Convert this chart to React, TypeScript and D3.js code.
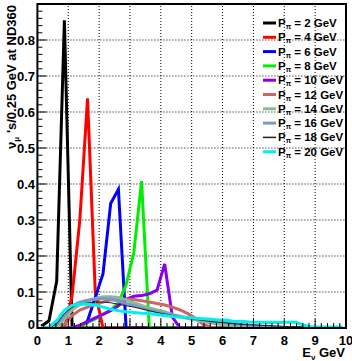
import React from "react";
import * as d3 from "d3";

const binCenters = d3.range(40).map((i) => 0.125 + 0.25 * i);

const p2 = [0.005, 0.02, 0.13, 0.855, 0, 0, 0, 0, 0, 0, 0, 0, 0, 0, 0, 0, 0, 0, 0, 0, 0, 0, 0, 0, 0, 0, 0, 0, 0, 0, 0, 0, 0, 0, 0, 0, 0, 0, 0, 0];
const p4 = [0, 0, 0, 0, 0.09, 0.3, 0.638, 0.1, 0, 0, 0, 0, 0, 0, 0, 0, 0, 0, 0, 0, 0, 0, 0, 0, 0, 0, 0, 0, 0, 0, 0, 0, 0, 0, 0, 0, 0, 0, 0, 0];
const p6 = [0, 0, 0, 0, 0, 0, 0.02, 0.085, 0.15, 0.346, 0.385, 0, 0, 0, 0, 0, 0, 0, 0, 0, 0, 0, 0, 0, 0, 0, 0, 0, 0, 0, 0, 0, 0, 0, 0, 0, 0, 0, 0, 0];
const p8 = [0, 0, 0, 0, 0, 0.005, 0.015, 0.025, 0.038, 0.05, 0.07, 0.12, 0.21, 0.408, 0, 0, 0, 0, 0, 0, 0, 0, 0, 0, 0, 0, 0, 0, 0, 0, 0, 0, 0, 0, 0, 0, 0, 0, 0, 0];
const p10 = [0, 0, 0, 0, 0, 0.008, 0.018, 0.028, 0.038, 0.048, 0.062, 0.08, 0.088, 0.09, 0.095, 0.105, 0.178, 0.03, 0, 0, 0, 0, 0, 0, 0, 0, 0, 0, 0, 0, 0, 0, 0, 0, 0, 0, 0, 0, 0, 0];
const p12 = [0, 0, 0, 0.01, 0.035, 0.05, 0.058, 0.065, 0.072, 0.078, 0.08, 0.08, 0.079, 0.076, 0.072, 0.068, 0.064, 0.058, 0.05, 0.04, 0.027, 0.01, 0.002, 0, 0, 0, 0, 0, 0, 0, 0, 0, 0, 0, 0, 0, 0, 0, 0, 0];
const p14 = [0, 0, 0, 0.025, 0.05, 0.065, 0.075, 0.082, 0.087, 0.087, 0.085, 0.078, 0.07, 0.063, 0.056, 0.05, 0.045, 0.038, 0.032, 0.027, 0.022, 0.018, 0.014, 0.011, 0.008, 0.005, 0.003, 0.001, 0, 0, 0, 0, 0, 0, 0, 0, 0, 0, 0, 0];
const p16 = [0, 0, 0.01, 0.035, 0.062, 0.072, 0.077, 0.08, 0.082, 0.08, 0.075, 0.068, 0.062, 0.056, 0.05, 0.045, 0.04, 0.036, 0.032, 0.028, 0.025, 0.022, 0.019, 0.017, 0.015, 0.012, 0.01, 0.008, 0.006, 0.004, 0.003, 0.002, 0, 0, 0, 0, 0, 0, 0, 0];
const p18 = [0, 0, 0.012, 0.04, 0.058, 0.066, 0.07, 0.072, 0.072, 0.07, 0.066, 0.062, 0.058, 0.053, 0.048, 0.043, 0.039, 0.035, 0.031, 0.027, 0.024, 0.021, 0.018, 0.016, 0.014, 0.012, 0.01, 0.009, 0.008, 0.007, 0.006, 0.005, 0.004, 0.004, 0.003, 0.001, 0, 0, 0, 0];
const p20 = [0, 0.003, 0.02, 0.05, 0.063, 0.066, 0.066, 0.064, 0.058, 0.052, 0.048, 0.045, 0.043, 0.041, 0.04, 0.037, 0.035, 0.032, 0.03, 0.03, 0.027, 0.026, 0.024, 0.022, 0.022, 0.018, 0.019, 0.017, 0.016, 0.015, 0.016, 0.015, 0.016, 0.016, 0.008, 0.003, 0.003, 0.003, 0.003, 0.003];

const seriesLabels = ["2", "4", "6", "8", "10", "12", "14", "16", "18", "20"];
const seriesValues = [p2, p4, p6, p8, p10, p12, p14, p16, p18, p20];
const seriesColors = ["#000000", "#ff0000", "#0000ff", "#00ee00", "#8800ee", "#cc6666", "#88bb99", "#7799cc", "#222222", "#00f0f0"];
const seriesWidths = [3, 3, 3, 3, 3, 3, 3, 3, 1, 3];

const xTicks = [0, 1, 2, 3, 4, 5, 6, 7, 8, 9, 10];
const yTicks = [0, 0.1, 0.2, 0.3, 0.4, 0.5, 0.6, 0.7, 0.8];

const W = 352;
const H = 361;
const FONT = "'Liberation Sans Narrow', 'Arial Narrow', 'Liberation Sans', Arial, sans-serif";

export default function App() {
  const x = d3.scaleLinear().domain([0, 10]).range([37.4, 346]);
  const y = d3.scaleLinear().domain([0, 0.9]).range([328, 4]);
  const line = d3
    .line<number>()
    .x((_, i) => x(binCenters[i]))
    .y((v) => y(v));

  const xMinor = d3.range(0, 10.001, 0.2);
  const yMinor = d3.range(0, 0.8801, 0.02);

  return (
    <svg width={W} height={H} style={{ position: "absolute", left: 0, top: 0, background: "#fff" }} fontFamily={FONT}>
      <rect x={0} y={0} width={W} height={H} fill="#fff" />
      {/* grid */}
      {xTicks.slice(1, -1).map((t) => (
        <line key={"gx" + t} x1={x(t)} x2={x(t)} y1={y(0)} y2={y(0.9)} stroke="#000" strokeWidth={1} strokeDasharray="1,2" />
      ))}
      {yTicks.slice(1).map((t) => (
        <line key={"gy" + t} x1={x(0)} x2={x(10)} y1={y(t)} y2={y(t)} stroke="#000" strokeWidth={1} strokeDasharray="1,2" />
      ))}
      {/* curves */}
      <g clipPath="url(#clip)">
        {seriesValues.map((vals, i) => (
          <path key={"s" + i} d={line(vals) || ""} fill="none" stroke={seriesColors[i]} strokeWidth={seriesWidths[i]} strokeLinejoin="miter" />
        ))}
      </g>
      {/* ticks */}
      {xMinor.map((t, i) => {
        const major = Math.abs(t - Math.round(t)) < 1e-6;
        return <line key={"xt" + i} x1={x(t)} x2={x(t)} y1={y(0)} y2={y(0) - (major ? 9 : 5)} stroke="#000" strokeWidth={1} />;
      })}
      {yMinor.map((t, i) => {
        const major = Math.abs(t * 10 - Math.round(t * 10)) < 1e-6;
        return <line key={"yt" + i} x1={x(0)} x2={x(0) + (major ? 9 : 5)} y1={y(t)} y2={y(t)} stroke="#000" strokeWidth={1} />;
      })}
      {/* frame */}
      <rect x={x(0)} y={y(0.9)} width={x(10) - x(0)} height={y(0) - y(0.9)} fill="none" stroke="#000" strokeWidth={2} />
      {/* tick labels */}
      {xTicks.map((t) => (
        <text key={"xl" + t} x={x(t)} y={345} textAnchor="middle" fontSize={13} fontWeight="bold">
          {t}
        </text>
      ))}
      {yTicks.map((t) => (
        <text key={"yl" + t} x={t === 0 ? 35 : 35} y={t === 0 ? y(t) + 1 : y(t) + 4.5} textAnchor="end" fontSize={13} fontWeight="bold">
          {t === 0 ? "0" : d3.format(".1f")(t)}
        </text>
      ))}
      {/* axis titles */}
      <text x={345} y={357} textAnchor="end" fontSize={13} fontWeight="bold">
        E
        <tspan fontSize={8} dy={3}>ν</tspan>
        <tspan dy={-3}> GeV</tspan>
      </text>
      <text transform="translate(16,5) rotate(-90)" textAnchor="end" fontSize={13} fontWeight="bold">
        ν
        <tspan fontSize={8} dy={3}>μ</tspan>
        <tspan dy={-3}> 's/0.25 GeV at ND360</tspan>
      </text>
      {/* legend */}
      {seriesLabels.map((lab, i) => {
        const ly = 23 + i * 14.3;
        return (
          <g key={"lg" + i}>
            <line x1={263} x2={276} y1={ly} y2={ly} stroke={seriesColors[i]} strokeWidth={seriesWidths[i] === 1 ? 1.5 : 3} />
            <text x={278} y={ly + 4} fontSize={11.5} fontWeight="bold">
              P<tspan fontSize={7} dy={2}>π</tspan>
              <tspan dy={-2}> = {lab} GeV</tspan>
            </text>
          </g>
        );
      })}
      <defs>
        <clipPath id="clip">
          <rect x={x(0)} y={y(0.9)} width={x(10) - x(0)} height={y(0) - y(0.9)} />
        </clipPath>
      </defs>
    </svg>
  );
}
